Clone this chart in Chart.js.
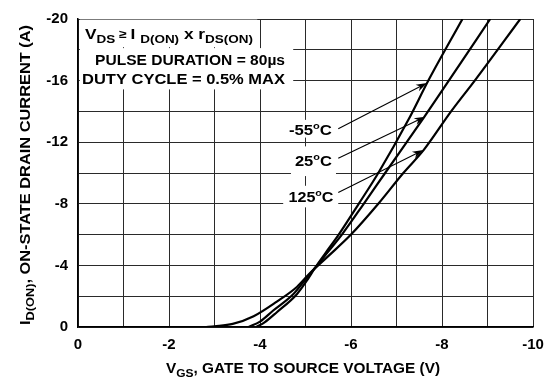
<!DOCTYPE html>
<html>
<head>
<meta charset="utf-8">
<script src="https://cdn.jsdelivr.net/npm/chart.js@4"></script>
<style>
  body { margin: 0; background: #fff; }
  canvas { display: block; }
</style>
</head>
<body>
<canvas id="transferChart" width="553" height="384"></canvas>
<script>
// transfer characteristics, I_D(ON) vs V_GS at three temperatures
const vgsM55 = [-3.92, -4.1, -4.37, -4.81, -5.05, -5.2, -5.45, -5.73, -6.17, -6.6, -7.27, -7.7, -8.45];
const idM55  = [0, -0.3, -0.96, -2.13, -3.1, -3.8, -4.85, -6, -8, -10, -13.5, -16, -20];

const vgs25 = [-3.75, -4.0, -4.29, -4.73, -5.03, -5.2, -5.5, -5.8, -6.28, -6.75, -7.6, -8.15, -9.06];
const id25  = [0, -0.35, -1.07, -2.13, -3.2, -3.8, -4.9, -6, -8, -10, -13.6, -16, -20];

const vgs125 = [-2.79, -3.0, -3.4, -3.86, -4.37, -4.81, -5.1, -5.5, -6.0, -6.6, -7.15, -7.6, -8.2, -8.72, -9.72];
const id125  = [0, -0.05, -0.2, -0.7, -1.65, -2.6, -3.5, -4.6, -6, -8, -10, -11.5, -14, -16, -20];

const xTicks = [0, -2, -4, -6, -8, -10];
const yTicks = [0, -4, -8, -12, -16, -20];
const tempLabels = ["-55", "25", "125"];

const FONT = '"Liberation Sans", Arial, Helvetica, sans-serif';

// where the notes sit, in axis units (V, A)
const arrowFrom = [[-5.72, -12.87], [-5.72, -10.96], [-5.72, -8.73]];
const arrowTo   = [[-7.67, -15.85], [-7.63, -13.66], [-7.59, -11.49]];
const labelAt   = [[-5.58, -12.45], [-5.58, -10.43], [-5.615, -8.09]];
const labelW    = [43, 37, 45];
const boxes = [
  [-0.04, -3.94, -19.96, -18.17],
  [-0.04, -4.73, -18.11, -15.43],
  [-4.53, -5.67, -13.45, -12.30],
  [-4.68, -5.67, -11.73, -9.80],
  [-4.51, -5.72, -9.17, -7.77]
];

function pts(xs, ys) {
  return xs.map((x, i) => ({ x: x, y: ys[i] }));
}

// draws text made of normal / sub / sup pieces, stretched to width w if given
function drawRich(ctx, segs, x, y, size, align, w, rotate) {
  ctx.save();
  const parts = segs.map(s => {
    const sz = s.sub ? size * 0.78 : s.sup ? size * 0.66 : (s.small ? size * 0.8 : size);
    ctx.font = "bold " + sz + "px " + FONT;
    return { t: s.t, sz: sz, dy: s.sub ? size * 0.28 : s.sup ? -size * 0.42 : (s.small ? -size * 0.05 : 0), w: ctx.measureText(s.t).width };
  });
  const natural = parts.reduce((a, p) => a + p.w, 0);
  const sx = w ? w / natural : 1;
  ctx.translate(x, y);
  if (rotate) ctx.rotate(-Math.PI / 2);
  ctx.scale(sx, 1);
  let cx = align === "center" ? -natural / 2 : align === "right" ? -natural : 0;
  ctx.fillStyle = "#000";
  ctx.textBaseline = "alphabetic";
  ctx.textAlign = "left";
  parts.forEach(p => {
    ctx.font = "bold " + p.sz + "px " + FONT;
    ctx.fillText(p.t, cx, p.dy);
    cx += p.w;
  });
  ctx.restore();
}

function arrow(ctx, x1, y1, x2, y2) {
  const a = Math.atan2(y2 - y1, x2 - x1);
  const len = 11, half = 3.6;
  ctx.save();
  ctx.strokeStyle = "#000";
  ctx.fillStyle = "#000";
  ctx.lineWidth = 1.1;
  ctx.beginPath();
  ctx.moveTo(x1, y1);
  ctx.lineTo(x2 - Math.cos(a) * 6, y2 - Math.sin(a) * 6);
  ctx.stroke();
  ctx.translate(x2, y2);
  ctx.rotate(a);
  ctx.beginPath();
  ctx.moveTo(0, 0);
  ctx.lineTo(-len, -half);
  ctx.lineTo(-len * 0.7, 0);
  ctx.lineTo(-len, half);
  ctx.closePath();
  ctx.fill();
  ctx.restore();
}

const notes = {
  id: "notes",
  beforeDatasetsDraw(chart) {
    const { ctx, scales: { x, y } } = chart;
    ctx.save();
    ctx.fillStyle = "#fff";
    boxes.forEach(b => {
      const x1 = x.getPixelForValue(b[0]), x2 = x.getPixelForValue(b[1]);
      const y1 = y.getPixelForValue(b[2]), y2 = y.getPixelForValue(b[3]);
      ctx.fillRect(x1, y1, x2 - x1, y2 - y1);
    });
    ctx.restore();
  },
  afterDraw(chart) {
    const { ctx, scales: { x, y } } = chart;
    const px = v => x.getPixelForValue(v);
    const py = v => y.getPixelForValue(v);

    drawRich(ctx, [
      { t: "V" }, { t: "DS", sub: true }, { t: " \u2265 ", small: true }, { t: "I " },
      { t: "D(ON)", sub: true }, { t: " x r" }, { t: "DS(ON)", sub: true }
    ], px(-0.154), py(-18.73), 14.5, "left", 168);
    drawRich(ctx, [{ t: "PULSE DURATION = 80\u00b5s" }], px(-0.374), py(-17.03), 14, "left", 190);
    drawRich(ctx, [{ t: "DUTY CYCLE = 0.5% MAX" }], px(-0.088), py(-15.75), 14, "left", 203);

    tempLabels.forEach((t, i) => {
      drawRich(ctx, [{ t: t }, { t: "o", sup: true }, { t: "C" }],
        px(labelAt[i][0]), py(labelAt[i][1]), 14.5, "right", labelW[i]);
      arrow(ctx, px(arrowFrom[i][0]), py(arrowFrom[i][1]), px(arrowTo[i][0]), py(arrowTo[i][1]));
    });

    // axis titles
    drawRich(ctx, [{ t: "V" }, { t: "GS", sub: true }, { t: ", GATE TO SOURCE VOLTAGE (V)" }],
      166, 373, 15, "left", 274);
    drawRich(ctx, [{ t: "I" }, { t: "D(ON)", sub: true }, { t: ", ON-STATE DRAIN CURRENT (A)" }],
      30, 325, 15, "left", 300, true);
  }
};

const ctx = document.getElementById("transferChart").getContext("2d");

const lineStyle = {
  showLine: true,
  borderColor: "#000",
  borderWidth: 2.2,
  pointRadius: 0,
  cubicInterpolationMode: "monotone",
  fill: false
};

new Chart(ctx, {
  type: "scatter",
  data: {
    datasets: [
      { label: tempLabels[0] + "\u00b0C", data: pts(vgsM55, idM55), ...lineStyle },
      { label: tempLabels[1] + "\u00b0C", data: pts(vgs25, id25), ...lineStyle },
      { label: tempLabels[2] + "\u00b0C", data: pts(vgs125, id125), ...lineStyle }
    ]
  },
  options: {
    responsive: false,
    animation: false,
    devicePixelRatio: 1,
    layout: { padding: { left: 0, right: 20, top: 13, bottom: 0 } },
    plugins: {
      legend: { display: false },
      tooltip: { enabled: false }
    },
    scales: {
      x: {
        type: "linear",
        min: -10,
        max: 0,
        reverse: true,
        afterFit: s => { s.height = 57; },
        border: { display: true, color: "#000", width: 1.5 },
        grid: { color: "#2a2a2a", lineWidth: 1, drawTicks: false },
        ticks: {
          stepSize: 1,
          autoSkip: false,
          maxRotation: 0,
          padding: 9,
          color: "#000",
          font: { family: FONT, size: 15, weight: "bold" },
          callback: v => (xTicks.includes(v) ? (v === 0 ? "0" : String(v)) : "")
        }
      },
      y: {
        type: "linear",
        min: -20,
        max: 0,
        reverse: true,
        afterFit: s => { s.width = 78; },
        border: { display: true, color: "#000", width: 1.5 },
        grid: { color: "#2a2a2a", lineWidth: 1, drawTicks: false },
        ticks: {
          stepSize: 2,
          autoSkip: false,
          padding: 10,
          color: "#000",
          font: { family: FONT, size: 15, weight: "bold" },
          callback: v => (yTicks.includes(v) ? (v === 0 ? "0" : String(v)) : "")
        }
      }
    }
  },
  plugins: [notes]
});
</script>
</body>
</html>
